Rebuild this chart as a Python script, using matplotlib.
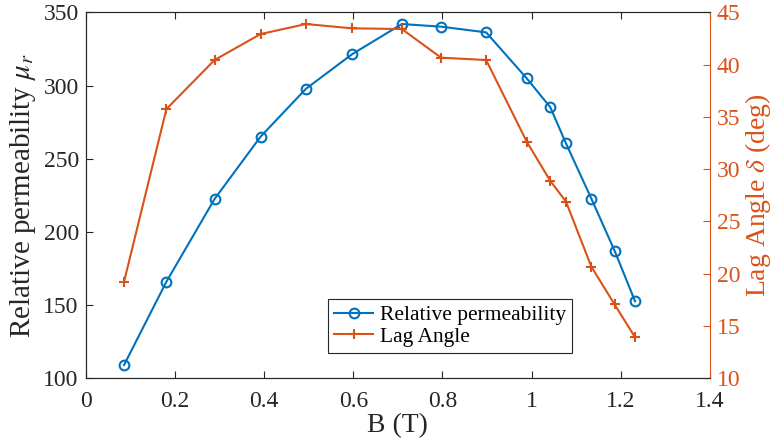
import matplotlib
matplotlib.use("Agg")
import matplotlib.pyplot as plt

# ─── Data ─────────────────────────────────────────────────────────────────────

B_T = [0.086, 0.181, 0.289, 0.392, 0.494, 0.597, 0.709, 0.797, 0.898,
       0.989, 1.042, 1.077, 1.134, 1.186, 1.232]
permeability = [109.1, 166.0, 222.5, 265.0, 297.8, 321.3, 342.0, 340.2, 336.3,
                304.9, 285.1, 260.5, 222.7, 187.2, 152.6]
lag_angle = [19.24, 35.75, 40.44, 42.92, 43.88, 43.47, 43.4, 40.66, 40.44,
             32.63, 28.87, 26.9, 20.67, 17.07, 13.92]

X_TICKS = [0, 0.2, 0.4, 0.6, 0.8, 1.0, 1.2, 1.4]
X_TICK_LABELS = ["0", "0.2", "0.4", "0.6", "0.8", "1", "1.2", "1.4"]
Y1_TICKS = [100, 150, 200, 250, 300, 350]
Y2_TICKS = [10, 15, 20, 25, 30, 35, 40, 45]

BLUE = "#0072BD"
ORANGE = "#D95319"
AXCOL = "#262626"

# ─── Style ────────────────────────────────────────────────────────────────────

plt.rcParams["font.family"] = ["Liberation Serif", "DejaVu Serif"]
plt.rcParams["mathtext.fontset"] = "stix"

fig = plt.figure(figsize=(7.75, 4.48), dpi=100)
ax = fig.add_axes([0.1106, 0.1556, 0.8055, 0.8169])
ax2 = ax.twinx()

l1, = ax.plot(B_T, permeability, color=BLUE, lw=1.5, marker="o",
              markersize=7, markerfacecolor="none", markeredgewidth=1.5,
              label="Relative permeability")
l2, = ax2.plot(B_T, lag_angle, color=ORANGE, lw=1.5, marker="+",
               markersize=7, markeredgewidth=1.5, label="Lag Angle")

ax.set_xlim(0, 1.4)
ax.set_ylim(100, 350)
ax2.set_ylim(10, 45)
ax.set_xticks(X_TICKS)
ax.set_xticklabels(X_TICK_LABELS)
ax.set_yticks(Y1_TICKS)
ax2.set_yticks(Y2_TICKS)

ax.tick_params(axis="x", direction="in", top=True, length=5, width=0.8,
               labelsize=17, colors=AXCOL, pad=9)
ax.tick_params(axis="y", direction="in", length=5, width=0.8,
               labelsize=17, colors=AXCOL, pad=5)
ax2.tick_params(axis="y", direction="in", length=5, width=0.8,
                labelsize=17, colors=ORANGE, pad=5)

for s in ["top", "bottom", "left"]:
    ax.spines[s].set_color(AXCOL)
    ax2.spines[s].set_color(AXCOL)
ax2.spines["right"].set_color(ORANGE)
ax.spines["right"].set_visible(False)

ax.set_xlabel("B (T)", fontsize=20, color=AXCOL, labelpad=1)
ax.set_ylabel(r"Relative permeability $\mu_r$", fontsize=21, color=AXCOL,
              labelpad=4)
ax2.set_ylabel(r"Lag Angle $\delta$ (deg)", fontsize=20, color=ORANGE,
               labelpad=2)

leg = ax2.legend(handles=[l1, l2], loc="lower left",
                 bbox_to_anchor=(0.388, 0.069), fontsize=15.5,
                 fancybox=False, framealpha=1, edgecolor="#262626",
                 borderpad=0.3, handlelength=1.8, handletextpad=0.3,
                 labelspacing=0.05, borderaxespad=0)
leg.get_frame().set_linewidth(0.8)

fig.savefig("out.png", dpi=100)
